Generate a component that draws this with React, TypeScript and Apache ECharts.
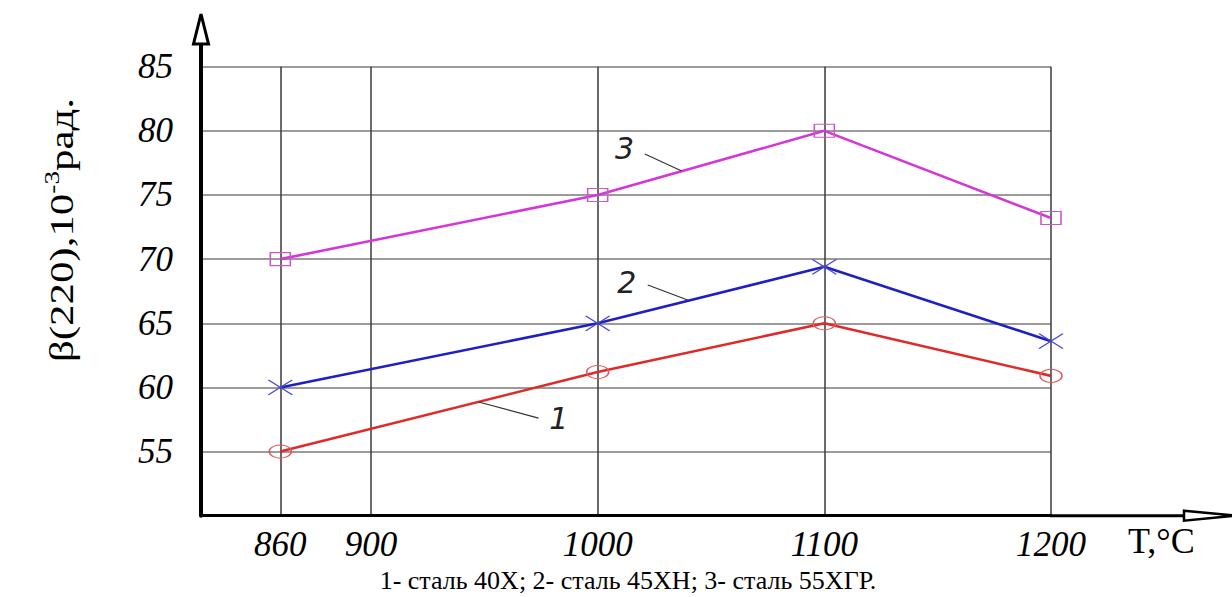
import React, { useEffect, useRef } from 'react';
import * as echarts from 'echarts';

// Data
const temperatures = [860, 1000, 1100, 1200];
const steel40X = [55, 61.2, 65, 60.9];
const steel45XN = [60, 65, 69.4, 63.6];
const steel55XGR = [70, 75, 80, 73.2];
const xTickValues = [860, 900, 1000, 1100, 1200];
const yMin = 50;
const yMax = 85;
const yStep = 5;
const xMin = 825;
const xMax = 1200;
const seriesLabels = ['1', '2', '3'];
// annotation text anchors and leader lines, in data units
const labelAnchors = [
  [982.8, 57.6],
  [1012.8, 68.14],
  [1011.9, 78.64],
];
const leaderStarts = [
  [973.9, 57.61],
  [1022.1, 67.98],
  [1020.8, 78.19],
];
const leaderEnds = [
  [947.5, 58.86],
  [1039.7, 66.81],
  [1037.1, 76.87],
];
const xAxisTitle = 'T,°C';
const yAxisTitleMain = 'β(220),10';
const yAxisTitleSup = '-3';
const yAxisTitleUnit = 'рад.';
const caption = '1- сталь 40Х; 2- сталь 45ХН; 3- сталь 55ХГР.';

const SERIF_FAMILY = 'Liberation Serif';

export default function App() {
  const ref = useRef<HTMLDivElement>(null);

  useEffect(() => {
    const chart = echarts.init(ref.current!, null, { renderer: 'svg', width: 1232, height: 597 });
    const pts = (vals: number[]) => temperatures.map((t, i) => [t, vals[i]]);

    const tickLabelStyle = {
      color: '#000',
      fontFamily: SERIF_FAMILY,
      fontStyle: 'italic',
      fontSize: 35,
    };

    const option: any = {
      animation: false,
      backgroundColor: '#ffffff',
      textStyle: { fontFamily: SERIF_FAMILY },
      grid: { left: 201, top: 66.7, right: 181, bottom: 81.3, containLabel: false },
      xAxis: {
        type: 'value',
        min: xMin,
        max: xMax,
        axisLine: { show: true, onZero: false, lineStyle: { color: '#000', width: 3 } },
        axisTick: { show: false, customValues: xTickValues },
        axisLabel: {
          customValues: xTickValues,
          formatter: (v: number) => String(v),
          margin: 11,
          ...tickLabelStyle,
        },
        splitLine: { show: true, lineStyle: { color: '#3a3a3a', width: 1.5 } },
      },
      yAxis: {
        type: 'value',
        min: yMin,
        max: yMax,
        interval: yStep,
        axisLine: { show: true, onZero: false, lineStyle: { color: '#000', width: 4 } },
        axisTick: { show: false },
        axisLabel: {
          showMinLabel: false,
          formatter: (v: number) => String(v),
          margin: 28,
          ...tickLabelStyle,
        },
        splitLine: { show: true, lineStyle: { color: '#7a7a7a', width: 1.5 } },
      },
      series: [
        {
          name: seriesLabels[0],
          type: 'line',
          data: pts(steel40X),
          symbol: 'circle',
          symbolSize: [22, 13],
          lineStyle: { color: '#df2a2a', width: 2.6 },
          itemStyle: { color: 'transparent', borderColor: '#e25a5a', borderWidth: 1.3 },
          z: 3,
        },
        {
          name: seriesLabels[1],
          type: 'line',
          data: pts(steel45XN),
          symbol: 'path://M0,0L24,15M24,0L0,15',
          symbolSize: [24, 15],
          lineStyle: { color: '#1f1fc4', width: 2.6 },
          itemStyle: { color: 'none', borderColor: '#4a4ad0', borderWidth: 1.3 },
          z: 3,
        },
        {
          name: seriesLabels[2],
          type: 'line',
          data: pts(steel55XGR),
          symbol: 'rect',
          symbolSize: [20, 13],
          lineStyle: { color: '#d636d6', width: 2.6 },
          itemStyle: { color: 'transparent', borderColor: '#c95ac9', borderWidth: 1.3 },
          z: 3,
        },
      ],
    };
    chart.setOption(option);

    const toPx = (p: number[]) => chart.convertToPixel({ gridIndex: 0 }, p) as number[];
    const origin = toPx([xMin, yMin]);
    const topLeft = toPx([xMin, yMax]);
    const bottomRight = toPx([xMax, yMin]);

    const annotationEls: any[] = [];
    seriesLabels.forEach((lab, i) => {
      const a = toPx(labelAnchors[i]);
      const s = toPx(leaderStarts[i]);
      const e = toPx(leaderEnds[i]);
      annotationEls.push({
        type: 'line',
        shape: { x1: s[0], y1: s[1], x2: e[0], y2: e[1] },
        style: { stroke: '#333', lineWidth: 1.2 },
        z: 10,
      });
      annotationEls.push({
        type: 'text',
        x: a[0],
        y: a[1],
        style: {
          text: lab,
          fill: '#222',
          font: 'italic 300 30px "DejaVu Sans"',
          align: 'center',
          verticalAlign: 'middle',
        },
        z: 10,
      });
    });

    // y title pieces measured so they can be laid out along the rotated baseline
    const mainFont = '33px "Liberation Serif"';
    const supFont = '21px "Liberation Serif"';
    const measure = (txt: string, font: string) => {
      const c = document.createElement('canvas').getContext('2d')!;
      c.font = font;
      return c.measureText(txt).width;
    };
    const stretch = 1.3;
    const wMain = measure(yAxisTitleMain, mainFont) * stretch;
    const wSup = measure(yAxisTitleSup, supFont) * stretch;
    const wUnit = measure(yAxisTitleUnit, mainFont) * stretch;
    const total = wMain + wSup + wUnit;
    const titleCx = 62;
    const titleCy = 230;
    const bottomY = titleCy + total / 2; // text runs upward from here

    const arrowTipY = 14;
    const arrowBaseY = 44;
    const xArrowBase = 1184;
    const xArrowTip = 1236;

    const rotatedText = (txt: string, font: string, yStart: number, xBase: number) => ({
      type: 'text',
      x: xBase,
      y: yStart,
      rotation: Math.PI / 2,
      scaleX: stretch,
      style: { text: txt, fill: '#000', font, align: 'left', verticalAlign: 'middle' },
      z: 20,
    });

    chart.setOption({
      graphic: {
        elements: [
          // y-axis extension and arrow
          {
            type: 'line',
            shape: { x1: origin[0], y1: topLeft[1] + 1, x2: origin[0], y2: arrowBaseY },
            style: { stroke: '#000', lineWidth: 4 },
            z: 20,
          },
          {
            type: 'polygon',
            shape: {
              points: [
                [origin[0], arrowTipY],
                [origin[0] - 7.5, arrowBaseY],
                [origin[0] + 7.5, arrowBaseY],
              ],
            },
            style: { fill: '#fff', stroke: '#000', lineWidth: 3, lineJoin: 'miter' },
            z: 21,
          },
          // x-axis extension and arrow
          {
            type: 'line',
            shape: { x1: bottomRight[0] - 1, y1: origin[1], x2: xArrowBase, y2: origin[1] },
            style: { stroke: '#000', lineWidth: 3 },
            z: 20,
          },
          {
            type: 'polygon',
            shape: {
              points: [
                [xArrowBase, origin[1] - 5],
                [xArrowTip, origin[1]],
                [xArrowBase, origin[1] + 5],
              ],
            },
            style: { fill: '#fff', stroke: '#000', lineWidth: 2.5 },
            z: 21,
          },
          // x-axis title
          {
            type: 'text',
            x: 1128,
            y: 541,
            style: {
              text: xAxisTitle,
              fill: '#000',
              font: '36px "Liberation Serif"',
              align: 'left',
              verticalAlign: 'middle',
            },
            z: 20,
          },
          // y-axis title: main, superscript, unit (rotated, stretched)
          rotatedText(yAxisTitleMain, mainFont, bottomY, titleCx),
          rotatedText(yAxisTitleSup, supFont, bottomY - wMain, titleCx - 10),
          rotatedText(yAxisTitleUnit, mainFont, bottomY - wMain - wSup, titleCx),
          // caption
          {
            type: 'text',
            x: 628,
            y: 580,
            style: {
              text: caption,
              fill: '#000',
              font: '26px "Liberation Serif"',
              align: 'center',
              verticalAlign: 'middle',
            },
            z: 20,
          },
          ...annotationEls,
        ],
      },
    });

    return () => chart.dispose();
  }, []);

  return (
    <div
      ref={ref}
      style={{ position: 'fixed', left: 0, top: 0, width: 1232, height: 597, background: '#fff' }}
    />
  );
}
